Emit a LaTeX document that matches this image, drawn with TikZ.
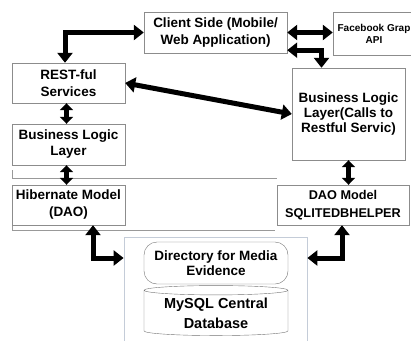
\documentclass[tikz,border=0pt]{standalone}
\usepackage{fontspec}
\setmainfont{Liberation Sans}
\usetikzlibrary{shapes.geometric,arrows.meta}

\definecolor{framegray}{RGB}{196,204,216}

\begin{document}
\begin{tikzpicture}[x=1pt,y=-1pt]

\tikzstyle{mybox}=[
  draw=black!45,
  align=center,
  inner sep=0pt,
  font=\bfseries\fontsize{13.5}{17}\selectfont]

\tikzstyle{myarrow}=[
  line width=5pt,
  {Triangle[length=10pt,width=15pt]}-{Triangle[length=10pt,width=15pt]}]

\tikzstyle{myshort}=[
  line width=5pt,
  {Triangle[length=7pt,width=13pt]}-{Triangle[length=7pt,width=13pt]}]

\tikzstyle{mylayer}=[black!40, line width=0.6pt]

\tikzstyle{myframe}=[draw=framegray, line width=0.8pt, inner sep=0pt]

\useasboundingbox (0,0) rectangle (411,340);
\clip (0,0) rectangle (411,340);

% define points
\path
  (215.5,32.5) coordinate(C)
  (374,33.5) coordinate(F)
  (68.5,83) coordinate(R)
  (68.5,144.5) coordinate(L)
  (348.5,114) coordinate(B)
  (68.5,205) coordinate(H)
  (343,205) coordinate(D)
  (215.5,294) coordinate(M)
  (216,263) coordinate(V)
  (216,313) coordinate(S)
  ;

% layer lines
\draw[mylayer] (12,170) -- (12,178) -- (277,178);
\draw[mylayer] (12,226) -- (12,230) -- (275,230);

\node[myframe, minimum width=183pt, minimum height=114pt] (cont) at (M) {};

\node[mybox, minimum width=143pt, minimum height=41pt] (client) at (C) {Client Side (Mobile/\\Web Application)};
\node[mybox, minimum width=82pt, minimum height=43pt,
  font=\bfseries\fontsize{10}{12}\selectfont] (fb) at (F) {Facebook Grap\\API};
\node[mybox, minimum width=113pt, minimum height=40pt] (rest) at (R) {REST-ful\\Services};
\node[mybox, minimum width=113pt, minimum height=41pt,
  font=\bfseries\fontsize{13.5}{16}\selectfont] (blll) at (L) {Business Logic\\Layer};
\node[mybox, minimum width=113pt, minimum height=92pt,
  font=\bfseries\fontsize{13.5}{15}\selectfont] (bllr) at (B) {Business Logic\\Layer(Calls to\\Restful Servic)};
\node[mybox, minimum width=113pt, minimum height=40pt] (hib) at (H) {Hibernate Model\\(DAO)};
\node[mybox, minimum width=132pt, minimum height=40pt,
  font=\bfseries\fontsize{12.7}{18}\selectfont] (dao) at (D) {DAO Model\\SQLITEDBHELPER};

\node[mybox, draw=black!55, rounded corners=13pt, minimum width=144pt, minimum height=42pt,
  font=\bfseries\fontsize{13.5}{15}\selectfont] (dir) at (V) {Directory for Media\\Evidence};
\node[mybox, draw=black!55, cylinder, shape border rotate=90, aspect=0.09,
  minimum width=144pt, minimum height=50pt,
  font=\bfseries\fontsize{14.5}{20}\selectfont] (db) at (S) {MySQL Central\\Database};

\coordinate (ylev) at ([yshift=5pt]dir.center);

% draw arrows
\draw[myarrow] (client.west) -| ([xshift=-3.5pt]rest.north);
\draw[myarrow] (client.east) -- (client.east -| fb.west);
\draw[myarrow] ([yshift=3pt]client.south east) -| ([xshift=-27pt]bllr.north);
\draw[myarrow] (rest.east) -- (bllr.west);
\draw[myshort] ([xshift=-2pt]rest.south) -- ([xshift=-2pt]blll.north);
\draw[myshort] ([xshift=-2pt]blll.south) -- ([xshift=-2pt]hib.north);
\draw[myshort] (bllr.south) -- (bllr.south |- dao.north);
\draw[myarrow] ([xshift=24.5pt]hib.south) |- (ylev -| cont.west);
\draw[myarrow] ([xshift=-1pt]dao.south) |- (ylev -| cont.east);

\end{tikzpicture}
\end{document}
